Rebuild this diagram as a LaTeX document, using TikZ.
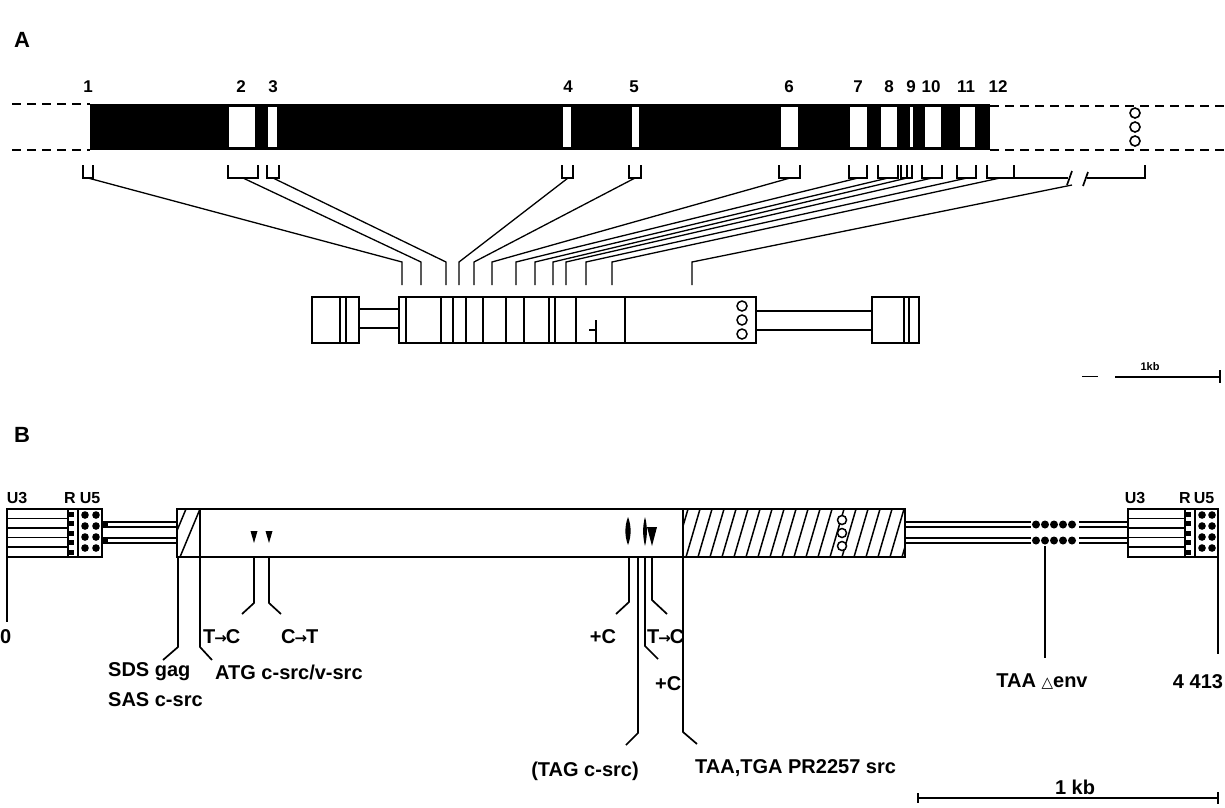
\documentclass[tikz,border=0pt]{standalone}
\usepackage{fontspec}
\setmainfont{Liberation Sans}
\newfontfamily\dvfont{DejaVu Sans}
\begin{document}
\begin{tikzpicture}[x=1pt,y=-1pt,
  ln/.style={line width=1.7pt},
  thin/.style={line width=1.3pt},
  num/.style={font=\bfseries\fontsize{17}{17}\selectfont, inner sep=0pt},
  lbl/.style={font=\bfseries\fontsize{20}{20}\selectfont, inner sep=0pt},
  ltr/.style={font=\bfseries\fontsize{16}{16}\selectfont, inner sep=0pt},
  big/.style={font=\bfseries\fontsize{22}{22}\selectfont, inner sep=0pt},
  dash line/.style={line width=1.6pt, dash pattern=on 9pt off 6pt},
]
\useasboundingbox (0,0) rectangle (1225,807);
\newcommand{\arr}{{\dvfont\bfseries\fontsize{15}{15}\selectfont\kern-1pt→\kern-1pt}}
% ================= Part A =================
\node[big] (labA) at (22,40) {A};
\fill (90,104) rectangle (990,150);
\foreach \a/\b in {229/255,268/277,563/571,632/639,781/798,850/867,881/897,910/913,925/941,960/975}
  \fill[white] (\a,107) rectangle (\b,147);
\foreach \x/\t [count=\i] in {88/1,241/2,273/3,568/4,634/5,789/6,858/7,889/8,911/9,931/10,966/11,998/12}
  \node[num] (ex\i) at (\x,87) {\t};
\draw[dash line] (12,104) -- (90,104);
\draw[dash line] (12,150) -- (90,150);
\draw[dash line] (990,106) -- (1225,106);
\draw[dash line] (990,150) -- (1225,150);
\foreach \y in {113,127,141}
  \draw[line width=1.6pt] (1135,\y) circle[radius=5pt];
% brackets
\foreach \a/\b in {83/93,228/258,267/279,562/573,629/641,779/800,849/867,878/898,901/912,922/942,957/976}
  \draw[ln] (\a,165) -- (\a,178) -- (\b,178) -- (\b,165);
\draw[ln] (907,165) -- (907,178);
\draw[ln] (987,165) -- (987,178) -- (1068,178);
\draw[ln] (1014,165) -- (1014,178);
\draw[ln] (1067,185) -- (1072,171);
\draw[ln] (1083,186) -- (1088,172);
\draw[ln] (1087,178) -- (1145,178) -- (1145,165);
% connectors
\foreach \s/\sy/\e [count=\i] in {88/178/402, 243/178/421, 273/178/446, 568/178/459, 635/178/474, 790/178/492, 858/178/516, 888/178/535, 907/178/553, 932/178/566, 967/178/586, 1000/178/612, 1072/185/692} {
  \coordinate (b\i) at (\s,\sy);
  \coordinate (e\i) at (\e,262);
  \coordinate (f\i) at (\e,285);
  \draw[thin] (b\i) -- (e\i) -- (f\i);
}
% mRNA
\draw[thin] (312,297) rectangle (359,343);
\draw[thin] (340,297) -- (340,343);
\draw[thin] (346,297) -- (346,343);
\draw[thin] (359,309) -- (399,309);
\draw[thin] (359,328) -- (399,328);
\draw[thin] (399,297) rectangle (756,343);
\foreach \x in {406,441,453,466,483,506,524,549,555,576,625}
  \draw[thin] (\x,297) -- (\x,343);
\draw[thin] (596,320) -- (596,343);
\draw[thin] (589,330) -- (596,330);
\foreach \y in {306,320,334}
  \draw[line width=1.5pt] (742,\y) circle[radius=5pt];
\draw[thin] (756,311) -- (872,311);
\draw[thin] (756,330) -- (872,330);
\draw[thin] (872,297) rectangle (919,343);
\draw[thin] (904,297) -- (904,343);
\draw[thin] (909,297) -- (909,343);
% scale A
\draw[line width=1pt] (1082,376) -- (1098,376);
\draw[line width=1.6pt] (1115,377) -- (1220,377);
\draw[line width=1.6pt] (1220,370) -- (1220,383);
\node[font=\bfseries\fontsize{11}{11}\selectfont, inner sep=0pt] (kbA) at (1150,367) {1kb};
% ================= Part B =================
\node[big] (labB) at (22,435) {B};
% left LTR
\node[ltr] (u3l) at (17,498) {U3};
\node[ltr] (rl) at (70,498) {R};
\node[ltr] (u5l) at (90,498) {U5};
\foreach \y in {518.5,528,537.5,547} \draw[thin] (7,\y) -- (68,\y);
\draw[thin] (68,509) -- (68,557);
\draw[thin] (78,509) -- (78,557);
\foreach \y in {514,523.5,533,542.5,552} \fill (69,\y-2.5) rectangle (74,\y+2.5);
\foreach \x in {85,96} \foreach \y in {515,526,537,548} \fill (\x,\y) circle[radius=3.8pt];
\draw[ln] (7,509) rectangle (102,557);
% left tube
\foreach \y in {522,527,538,543} \draw[thin] (102,\y) -- (177,\y);
\fill (102,521) rectangle (108,528);
\fill (102,537) rectangle (108,544);
% small hatch
\begin{scope}
  \clip (177,509) rectangle (200,557);
  \foreach \x in {166,180} \draw[line width=1.5pt] (\x,557) -- (\x+20,509);
\end{scope}
% big hatch
\begin{scope}
  \clip (683,509) rectangle (905,557);
  \foreach \x in {674,686,...,910} \draw[line width=1.5pt] (\x,557) -- (\x+14,509);
\end{scope}
\foreach \y in {520,533,546}
  \draw[line width=1.5pt, fill=white] (842,\y) circle[radius=4.5pt];
\draw[ln] (177,509) rectangle (905,557);
\draw[ln] (200,509) -- (200,557);
\draw[ln] (683,509) -- (683,557);
% markers
\foreach \x in {254,269} \fill (\x-3.5,531) -- (\x+3.5,531) -- (\x,543) -- cycle;
\fill (628,517) .. controls (631.5,526) and (631.5,536) .. (628,545) .. controls (624.5,536) and (624.5,526) .. (628,517);
\fill (645,517) .. controls (647.5,526) and (647.5,536) .. (645,546) .. controls (642.5,536) and (642.5,526) .. (645,517);
\fill (647,527) -- (657,527) -- (652,546) -- cycle;
% right tube
\foreach \y in {522,527,538,543} \draw[thin] (905,\y) -- (1128,\y);
\fill[white] (1031,519) rectangle (1079,546);
\foreach \x in {1036,1045,1054,1063,1072} {
  \fill (\x,524.5) circle[radius=4pt];
  \fill (\x,540.5) circle[radius=4pt];
}
% right LTR
\node[ltr] (u3r) at (1135,498) {U3};
\node[ltr] (rr) at (1185,498) {R};
\node[ltr] (u5r) at (1204,498) {U5};
\fill[white] (1129,510) rectangle (1217,556);
\foreach \y in {518.5,528,537.5,547} \draw[thin] (1128,\y) -- (1185,\y);
\draw[thin] (1185,509) -- (1185,557);
\draw[thin] (1195,509) -- (1195,557);
\foreach \y in {514,523.5,533,542.5,552} \fill (1186,\y-2.5) rectangle (1191,\y+2.5);
\foreach \x in {1202,1212} \foreach \y in {515,526,537,548} \fill (\x,\y) circle[radius=3.8pt];
\draw[ln] (1128,509) rectangle (1218,557);
% label nodes
\node[lbl, anchor=west] (zero) at (0,637) {0};
\node[lbl, anchor=west] (sds) at (108,672) {SDS gag};
\node[lbl, anchor=west] (sas) at (108,700) {SAS c-src};
\node[lbl, anchor=west] (atg) at (215,672) {ATG c-src/v-src};
\node[lbl, anchor=west] (tc1) at (203,637) {T\arr C};
\node[lbl, anchor=west] (ct1) at (281,637) {C\arr T};
\node[lbl] (pc1) at (603,637) {+C};
\node[lbl, anchor=west] (tc2) at (647,637) {T\arr C};
\node[lbl, anchor=west] (pc2) at (655,684) {+C};
\node[lbl] (tag) at (585,771) {(TAG c-src)};
\node[lbl, anchor=west] (taa) at (695,768) {TAA,TGA PR2257 src};
\node[lbl] (env) at (1042,682) {TAA {\dvfont\bfseries\fontsize{15}{15}\selectfont △}env};
\node[lbl] (end) at (1198,682) {4 413};
\node[lbl] (kbB) at (1075,787) {1 kb};
% leader lines
\coordinate (l0) at (7,557);
\draw[ln] (l0) -- (7,622);
\draw[ln] (1218,557) -- (1218,654);
\draw[ln] (1045,546) -- (1045,658);
\draw[ln] (178,557) -- (178,647) -- (163,660);
\draw[ln] (200,557) -- (200,647) -- (212,660);
\draw[ln] (254,557) -- (254,603) -- (242,614);
\draw[ln] (269,557) -- (269,603) -- (281,614);
\draw[ln] (629,557) -- (629,602) -- (616,614);
\draw[ln] (638,557) -- (638,733) -- (626,745);
\draw[ln] (645,557) -- (645,646) -- (658,659);
\draw[ln] (652,557) -- (652,600) -- (667,614);
\draw[ln] (683,557) -- (683,732) -- (697,744);
% scale B
\draw[line width=1.6pt] (918,798) -- (1218,798);
\draw[line width=1.6pt] (918,793) -- (918,803);
\draw[line width=1.6pt] (1218,792) -- (1218,804);
\end{tikzpicture}
\end{document}
